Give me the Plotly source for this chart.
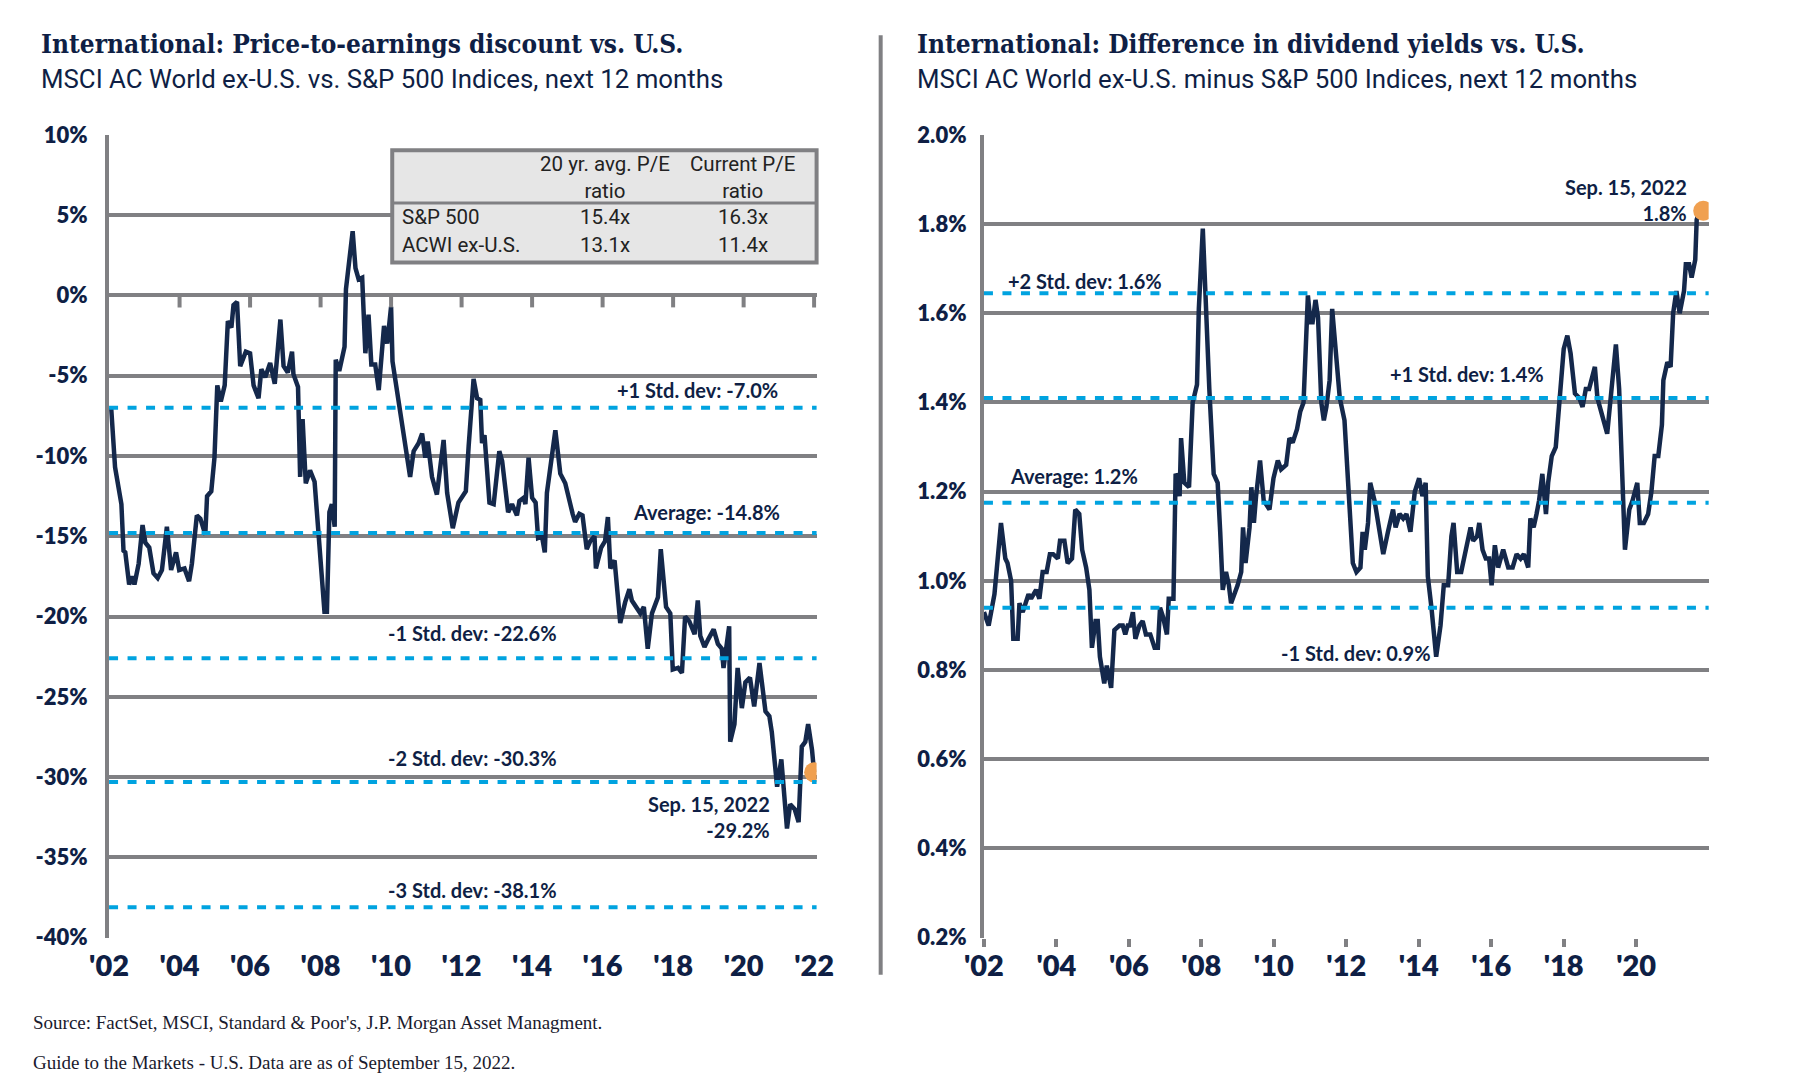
import plotly.graph_objects as go

# ---- data (x = position in years on the chart axis) ----
pe_years = [
    2002.06, 2002.17, 2002.35, 2002.41, 2002.46, 2002.57, 2002.65, 2002.72, 2002.84, 2002.95,
    2003.03, 2003.14, 2003.26, 2003.38, 2003.50, 2003.64, 2003.76, 2003.90, 2003.99, 2004.14,
    2004.27, 2004.35, 2004.49, 2004.59, 2004.73, 2004.78, 2004.90, 2004.99, 2005.07, 2005.17,
    2005.28, 2005.37, 2005.47, 2005.53, 2005.63, 2005.72, 2005.88, 2006.00, 2006.10, 2006.24,
    2006.32, 2006.43, 2006.57, 2006.70, 2006.86, 2006.95, 2007.07, 2007.19, 2007.23, 2007.36,
    2007.42, 2007.49, 2007.58, 2007.70, 2007.83, 2007.99, 2008.11, 2008.18, 2008.25, 2008.32,
    2008.40, 2008.43, 2008.53, 2008.68, 2008.72, 2008.91, 2008.99, 2009.08, 2009.18, 2009.27,
    2009.36, 2009.44, 2009.55, 2009.65, 2009.80, 2009.89, 2010.00, 2010.04, 2010.26, 2010.54,
    2010.64, 2010.78, 2010.88, 2010.97, 2011.04, 2011.16, 2011.30, 2011.49, 2011.59, 2011.75,
    2011.91, 2012.12, 2012.20, 2012.34, 2012.44, 2012.53, 2012.58, 2012.65, 2012.79, 2012.91,
    2013.07, 2013.15, 2013.32, 2013.43, 2013.57, 2013.64, 2013.76, 2013.81, 2013.90, 2014.00,
    2014.10, 2014.17, 2014.28, 2014.36, 2014.42, 2014.52, 2014.66, 2014.80, 2014.94, 2015.15,
    2015.22, 2015.34, 2015.43, 2015.55, 2015.65, 2015.77, 2015.81, 2015.96, 2016.07, 2016.15,
    2016.22, 2016.34, 2016.50, 2016.64, 2016.76, 2016.83, 2017.00, 2017.07, 2017.17, 2017.28,
    2017.40, 2017.57, 2017.65, 2017.80, 2017.92, 2017.99, 2018.14, 2018.25, 2018.34, 2018.46,
    2018.61, 2018.70, 2018.77, 2018.89, 2019.00, 2019.15, 2019.27, 2019.38, 2019.43, 2019.59,
    2019.62, 2019.74, 2019.83, 2019.95, 2020.05, 2020.18, 2020.30, 2020.45, 2020.62, 2020.73,
    2020.80, 2020.95, 2021.07, 2021.23, 2021.32, 2021.45, 2021.56, 2021.65, 2021.75, 2021.83,
    2021.94, 2022.00,
]
pe_discount = [
    -7.0, -10.7, -13.0, -15.9, -16.0, -18.0, -17.5, -18.0, -16.7, -14.3,
    -15.4, -15.7, -17.3, -17.6, -17.1, -14.4, -17.1, -16.0, -17.1, -17.0,
    -17.8, -16.7, -13.7, -13.9, -14.9, -12.5, -12.2, -10.1, -5.6, -6.6,
    -5.6, -1.6, -2.0, -0.6, -0.4, -4.4, -3.5, -3.6, -5.6, -6.4,
    -4.6, -5.1, -4.2, -5.5, -1.5, -4.4, -4.8, -3.5, -4.9, -5.7,
    -11.3, -7.7, -11.7, -10.9, -11.6, -16.5, -19.7, -19.7, -13.5, -13.0,
    -14.4, -4.0, -4.7, -3.2, 0.4, 4.0, 1.7, 1.0, 1.1, -3.6,
    -1.2, -4.3, -4.3, -5.9, -1.9, -3.0, -0.7, -4.1, -7.4, -11.3,
    -9.7, -9.2, -8.6, -10.1, -9.1, -11.3, -12.4, -9.0, -12.3, -14.5,
    -12.9, -12.2, -9.4, -5.2, -6.4, -6.5, -9.2, -8.7, -12.9, -13.0,
    -9.7, -10.3, -13.5, -13.0, -13.7, -12.8, -12.6, -13.0, -10.1, -12.6,
    -12.9, -15.1, -15.0, -16.0, -12.3, -10.7, -8.4, -11.1, -11.7, -13.6,
    -14.1, -13.6, -13.7, -15.8, -15.3, -15.0, -17.0, -15.7, -15.3, -13.8,
    -17.0, -16.5, -20.4, -19.1, -18.3, -19.0, -19.5, -19.8, -19.4, -22.0,
    -19.8, -18.8, -15.8, -19.4, -19.8, -23.3, -23.2, -23.5, -20.0, -20.3,
    -21.1, -19.0, -21.2, -21.9, -21.4, -20.8, -21.7, -22.0, -23.2, -20.6,
    -27.8, -26.7, -23.2, -25.7, -24.1, -23.8, -25.6, -22.9, -25.9, -26.2,
    -27.2, -30.6, -28.9, -33.2, -31.7, -32.0, -32.8, -28.1, -27.8, -26.7,
    -28.3, -29.7,
]

dy_years = [
    2002.00, 2002.13, 2002.29, 2002.38, 2002.47, 2002.59, 2002.65, 2002.75, 2002.81, 2002.93,
    2002.98, 2003.07, 2003.23, 2003.30, 2003.44, 2003.53, 2003.62, 2003.73, 2003.82, 2003.91,
    2004.04, 2004.10, 2004.22, 2004.31, 2004.43, 2004.52, 2004.63, 2004.71, 2004.82, 2004.91,
    2004.98, 2005.08, 2005.14, 2005.20, 2005.32, 2005.39, 2005.51, 2005.60, 2005.74, 2005.83,
    2005.90, 2005.97, 2006.03, 2006.11, 2006.18, 2006.29, 2006.38, 2006.47, 2006.59, 2006.71,
    2006.80, 2006.86, 2006.94, 2007.05, 2007.10, 2007.23, 2007.29, 2007.35, 2007.40, 2007.44,
    2007.53, 2007.66, 2007.76, 2007.88, 2007.93, 2008.04, 2008.13, 2008.22, 2008.34, 2008.45,
    2008.52, 2008.59, 2008.68, 2008.76, 2008.82, 2008.92, 2009.00, 2009.10, 2009.15, 2009.22,
    2009.33, 2009.38, 2009.45, 2009.51, 2009.62, 2009.72, 2009.88, 2009.99, 2010.11, 2010.20,
    2010.34, 2010.43, 2010.52, 2010.64, 2010.73, 2010.82, 2010.94, 2011.01, 2011.07, 2011.15,
    2011.22, 2011.31, 2011.38, 2011.45, 2011.54, 2011.61, 2011.68, 2011.82, 2011.95, 2012.05,
    2012.14, 2012.18, 2012.28, 2012.39, 2012.45, 2012.51, 2012.60, 2012.66, 2012.78, 2012.92,
    2013.02, 2013.15, 2013.29, 2013.36, 2013.47, 2013.57, 2013.66, 2013.77, 2013.89, 2014.01,
    2014.10, 2014.19, 2014.25, 2014.35, 2014.48, 2014.60, 2014.69, 2014.81, 2014.90, 2014.96,
    2015.06, 2015.17, 2015.31, 2015.43, 2015.50, 2015.61, 2015.67, 2015.76, 2015.85, 2015.94,
    2016.01, 2016.10, 2016.19, 2016.33, 2016.47, 2016.59, 2016.70, 2016.81, 2016.90, 2017.02,
    2017.08, 2017.17, 2017.25, 2017.32, 2017.41, 2017.51, 2017.57, 2017.67, 2017.78, 2017.89,
    2018.00, 2018.10, 2018.19, 2018.31, 2018.43, 2018.52, 2018.61, 2018.70, 2018.86, 2018.93,
    2019.02, 2019.20, 2019.32, 2019.44, 2019.53, 2019.60, 2019.69, 2019.81, 2019.90, 2020.03,
    2020.10, 2020.21, 2020.33, 2020.42, 2020.51, 2020.61, 2020.71, 2020.75, 2020.86, 2020.95,
    2021.02, 2021.11, 2021.20, 2021.32, 2021.37, 2021.46, 2021.53, 2021.63, 2021.67, 2021.71,
    2021.85,
]
dy_diff = [
    0.93, 0.90, 0.97, 1.05, 1.13, 1.05, 1.04, 1.00, 0.87, 0.87,
    0.95, 0.93, 0.97, 0.96, 0.98, 0.96, 1.02, 1.02, 1.06, 1.06,
    1.05, 1.09, 1.09, 1.04, 1.05, 1.16, 1.15, 1.07, 1.03, 0.98,
    0.85, 0.91, 0.91, 0.83, 0.77, 0.81, 0.76, 0.89, 0.90, 0.90,
    0.88, 0.90, 0.90, 0.93, 0.87, 0.90, 0.91, 0.88, 0.88, 0.85,
    0.85, 0.94, 0.92, 0.88, 0.96, 0.96, 1.24, 1.23, 1.19, 1.32,
    1.22, 1.21, 1.40, 1.44, 1.61, 1.79, 1.59, 1.43, 1.24, 1.22,
    1.11, 0.98, 1.02, 0.99, 0.95, 0.97, 0.99, 1.02, 1.12, 1.04,
    1.12, 1.21, 1.13, 1.19, 1.27, 1.18, 1.16, 1.23, 1.27, 1.25,
    1.26, 1.32, 1.31, 1.34, 1.38, 1.40, 1.64, 1.58, 1.58, 1.63,
    1.59, 1.40, 1.36, 1.39, 1.45, 1.61, 1.55, 1.41, 1.36, 1.23,
    1.09, 1.04, 1.02, 1.03, 1.11, 1.07, 1.13, 1.22, 1.18, 1.11,
    1.06, 1.11, 1.16, 1.12, 1.15, 1.14, 1.15, 1.11, 1.20, 1.23,
    1.19, 1.22, 1.01, 0.94, 0.83, 0.90, 0.99, 0.99, 1.10, 1.13,
    1.02, 1.02, 1.08, 1.12, 1.09, 1.10, 1.13, 1.07, 1.05, 1.05,
    0.99, 1.08, 1.03, 1.07, 1.03, 1.03, 1.06, 1.05, 1.06, 1.03,
    1.14, 1.12, 1.15, 1.18, 1.24, 1.15, 1.22, 1.28, 1.30, 1.41,
    1.52, 1.55, 1.51, 1.42, 1.41, 1.39, 1.43, 1.43, 1.48, 1.41,
    1.38, 1.33, 1.43, 1.53, 1.43, 1.25, 1.07, 1.16, 1.18, 1.22,
    1.13, 1.13, 1.15, 1.20, 1.28, 1.28, 1.35, 1.45, 1.49, 1.48,
    1.60, 1.65, 1.60, 1.65, 1.71, 1.71, 1.68, 1.72, 1.81, 1.82,
    1.83,
]

pe_bands = [-7.0, -14.8, -22.6, -30.3, -38.1]
pe_band_labels = ["+1 Std. dev: -7.0%", "Average: -14.8%", "-1 Std. dev: -22.6%",
                  "-2 Std. dev: -30.3%", "-3 Std. dev: -38.1%"]
dy_bands = [1.645, 1.41, 1.175, 0.94]
dy_band_labels = ["+2 Std. dev: 1.6%", "+1 Std. dev: 1.4%", "Average: 1.2%", "-1 Std. dev: 0.9%"]

pe_tickvals = list(range(2002, 2023, 2))
pe_ticktext = ["'02", "'04", "'06", "'08", "'10", "'12", "'14", "'16", "'18", "'20", "'22"]
dy_tickvals = list(range(2002, 2021, 2))
dy_ticktext = ["'02", "'04", "'06", "'08", "'10", "'12", "'14", "'16", "'18", "'20"]

pe_ytickvals = [10, 5, 0, -5, -10, -15, -20, -25, -30, -35, -40]
pe_yticktext = ["10%", "5%", "0%", "-5%", "-10%", "-15%", "-20%", "-25%", "-30%", "-35%", "-40%"]
dy_ytickvals = [2.0, 1.8, 1.6, 1.4, 1.2, 1.0, 0.8, 0.6, 0.4, 0.2]
dy_yticktext = ["2.0%", "1.8%", "1.6%", "1.4%", "1.2%", "1.0%", "0.8%", "0.6%", "0.4%", "0.2%"]

table_header = ["20 yr. avg. P/E<br>ratio", "Current P/E<br>ratio"]
table_rows = ["S&P 500", "ACWI ex-U.S."]
table_avg_pe = ["15.4x", "13.1x"]
table_cur_pe = ["16.3x", "11.4x"]

pe_last_label = "Sep. 15, 2022<br>-29.2%"
dy_last_label = "Sep. 15, 2022<br>1.8%"

# ---- style ----
NAVY = "#0f1f45"
LINE = "#14284b"
GRAY = "#808083"
BLUE = "#00a3e0"
ORANGE = "#f0a050"
W, H = 1800, 1084

TITLE_FONT = dict(family="DejaVu Serif Condensed, DejaVu Serif, serif", size=26, color=NAVY, weight=700)
SUB_FONT = dict(family="Roboto, sans-serif", size=25.8, color=NAVY)
TICK_FONT = dict(family="Lato, sans-serif", size=22, color=NAVY, weight=800)
XTICK_FONT = dict(family="Lato, sans-serif", size=29, color=NAVY, weight=800)
LBL_FONT = dict(family="Lato, sans-serif", size=20, color=NAVY, weight=700)
TABLE_FONT = dict(family="Roboto, sans-serif", size=20.5, color="#222222")
FOOT_FONT = dict(family="Liberation Serif, serif", size=19, color="#1a1a2e")


# target pixel -> paper fraction (small correction for how the page lands in the shot)
def px_x(p):
    return (p - 26.7) / 0.992 / W


def px_y(p):
    return 1 - (p - 21.6) / 0.988 / H


y_dom = [px_y(949.4), px_y(136)]

fig = go.Figure()

# left: P/E discount
fig.add_trace(go.Scatter(x=pe_years, y=pe_discount, mode="lines",
                         line=dict(color=LINE, width=4.5), xaxis="x", yaxis="y",
                         showlegend=False, hoverinfo="skip"))
# little tick marks hanging from the 0% line
fig.add_trace(go.Scatter(x=pe_tickvals[1:], y=[-0.35] * (len(pe_tickvals) - 1), mode="markers",
                         marker=dict(symbol="line-ns", size=9, line=dict(color=GRAY, width=4)),
                         xaxis="x", yaxis="y", showlegend=False, hoverinfo="skip"))
fig.add_trace(go.Scatter(x=[pe_years[-1]], y=[pe_discount[-1]], mode="markers",
                         marker=dict(color=ORANGE, size=20), xaxis="x", yaxis="y",
                         showlegend=False, hoverinfo="skip"))

# right: dividend yield difference
fig.add_trace(go.Scatter(x=dy_years, y=dy_diff, mode="lines",
                         line=dict(color=LINE, width=4.5), xaxis="x2", yaxis="y2",
                         showlegend=False, hoverinfo="skip"))
fig.add_trace(go.Scatter(x=[dy_years[-1]], y=[dy_diff[-1]], mode="markers",
                         marker=dict(color=ORANGE, size=20), xaxis="x2", yaxis="y2",
                         showlegend=False, hoverinfo="skip"))

shapes = []
for v in pe_bands:
    shapes.append(dict(type="line", xref="x domain", yref="y", x0=0, x1=1, y0=v, y1=v,
                       line=dict(color=BLUE, width=4, dash="9px,9.5px"), layer="above"))
for v in dy_bands:
    shapes.append(dict(type="line", xref="x2 domain", yref="y2", x0=0, x1=1, y0=v, y1=v,
                       line=dict(color=BLUE, width=4, dash="9px,9.5px"), layer="above"))

# separator between panels
shapes.append(dict(type="line", xref="paper", yref="paper", x0=px_x(890.3), x1=px_x(890.3),
                   y0=px_y(35), y1=px_y(987), line=dict(color=GRAY, width=4)))

# table box
tb_l, tb_r, tb_t, tb_b, tb_sep = px_x(395.6), px_x(825.4), px_y(151.5), px_y(265.3), px_y(205)
shapes.append(dict(type="rect", xref="paper", yref="paper", x0=tb_l, x1=tb_r, y0=tb_b, y1=tb_t,
                   fillcolor="#e6e6e6", line=dict(color=GRAY, width=4), layer="above"))
shapes.append(dict(type="line", xref="paper", yref="paper", x0=tb_l, x1=tb_r, y0=tb_sep, y1=tb_sep,
                   line=dict(color=GRAY, width=3), layer="above"))

ann = []
# titles
ann += [
    dict(text="International: Price-to-earnings discount vs. U.S.", x=px_x(38), y=px_y(44.2),
         xanchor="left", yanchor="middle", font=TITLE_FONT),
    dict(text="MSCI AC World ex-U.S. vs. S&P 500 Indices, next 12 months", x=px_x(38), y=px_y(79.1),
         xanchor="left", yanchor="middle", font=SUB_FONT),
    dict(text="International: Difference in dividend yields vs. U.S.", x=px_x(925.2), y=px_y(44.2),
         xanchor="left", yanchor="middle", font=TITLE_FONT),
    dict(text="MSCI AC World ex-U.S. minus S&P 500 Indices, next 12 months", x=px_x(925.2), y=px_y(79.1),
         xanchor="left", yanchor="middle", font=SUB_FONT),
]

# band labels, left panel
pe_label_pos = [(2021.03, -5.9, "right"), (2021.1, -13.47, "right"), (2014.75, -21.05, "right"),
                (2014.75, -28.83, "right"), (2014.75, -37.0, "right")]
for txt, (lx, ly, anc) in zip(pe_band_labels, pe_label_pos):
    ann.append(dict(text=txt, x=lx, y=ly, xref="x", yref="y", xanchor=anc, yanchor="middle",
                    font=LBL_FONT))
ann.append(dict(text=pe_last_label, x=2020.8, y=-32.5, xref="x", yref="y", xanchor="right",
                yanchor="middle", align="right", font=LBL_FONT))

# band labels, right panel
dy_label_pos = [(2002.6, 1.673, "left"), (2015.33, 1.463, "center"), (2002.67, 1.235, "left"),
                (2014.4, 0.839, "right")]
for txt, (lx, ly, anc) in zip(dy_band_labels, dy_label_pos):
    ann.append(dict(text=txt, x=lx, y=ly, xref="x2", yref="y2", xanchor=anc, yanchor="middle",
                    font=LBL_FONT))
ann.append(dict(text=dy_last_label, x=2021.45, y=1.853, xref="x2", yref="y2", xanchor="right",
                yanchor="middle", align="right", font=LBL_FONT))

# table text
col_x = [px_x(611.4), px_x(750.8)]
for cx, h in zip(col_x, table_header):
    ann.append(dict(text=h, x=cx, y=px_y(179), xanchor="center", yanchor="middle",
                    font=TABLE_FONT))
row_y = [px_y(219), px_y(248)]
for ry, name, a1, a2 in zip(row_y, table_rows, table_avg_pe, table_cur_pe):
    ann.append(dict(text=name, x=px_x(403.5), y=ry, xanchor="left", yanchor="middle", font=TABLE_FONT))
    ann.append(dict(text=a1, x=col_x[0], y=ry, xanchor="center", yanchor="middle", font=TABLE_FONT))
    ann.append(dict(text=a2, x=col_x[1], y=ry, xanchor="center", yanchor="middle", font=TABLE_FONT))

# footnotes
ann.append(dict(text="Source: FactSet, MSCI, Standard & Poor's, J.P. Morgan Asset Managment.",
                x=px_x(30), y=px_y(1034.9), xanchor="left", yanchor="middle", font=FOOT_FONT))
ann.append(dict(text="Guide to the Markets - U.S. Data are as of September 15, 2022.",
                x=px_x(30), y=px_y(1075.5), xanchor="left", yanchor="middle", font=FOOT_FONT))
for a in ann:
    a.setdefault("xref", "paper")
    a.setdefault("yref", "paper")
    a.setdefault("showarrow", False)

fig.update_layout(
    width=W, height=H,
    margin=dict(l=0, r=0, t=0, b=0),
    paper_bgcolor="white", plot_bgcolor="white",
    shapes=shapes, annotations=ann,
    xaxis=dict(domain=[px_x(108.8), px_x(825.4)], range=[2002, 2022.07], tickvals=pe_tickvals,
               ticktext=pe_ticktext, showgrid=False, zeroline=False, showline=False,
               ticks="outside", ticklen=3, tickcolor="rgba(0,0,0,0)", tickfont=XTICK_FONT,
               fixedrange=True),
    yaxis=dict(domain=y_dom, range=[-40, 10], tickvals=pe_ytickvals, ticktext=pe_yticktext,
               showgrid=True, gridcolor=GRAY, gridwidth=4, zeroline=False,
               showline=True, linecolor=GRAY, linewidth=4,
               ticks="", ticklabelstandoff=13, tickfont=TICK_FONT, fixedrange=True),
    xaxis2=dict(domain=[px_x(994.9), px_x(1728.9)], range=[2002, 2022.0], tickvals=dy_tickvals,
                ticktext=dy_ticktext, showgrid=False, zeroline=False, showline=False,
                anchor="y2", ticks="outside", ticklen=8, tickwidth=4, tickcolor=GRAY,
                ticklabelstandoff=-5, tickfont=XTICK_FONT, fixedrange=True),
    yaxis2=dict(domain=y_dom, range=[0.2, 2.0], tickvals=dy_ytickvals, ticktext=dy_yticktext,
                anchor="x2",
                showgrid=True, gridcolor=GRAY, gridwidth=4, zeroline=False,
                showline=True, linecolor=GRAY, linewidth=4,
                ticks="", ticklabelstandoff=9, tickfont=TICK_FONT, fixedrange=True),
)

fig.write_html("out.html")
